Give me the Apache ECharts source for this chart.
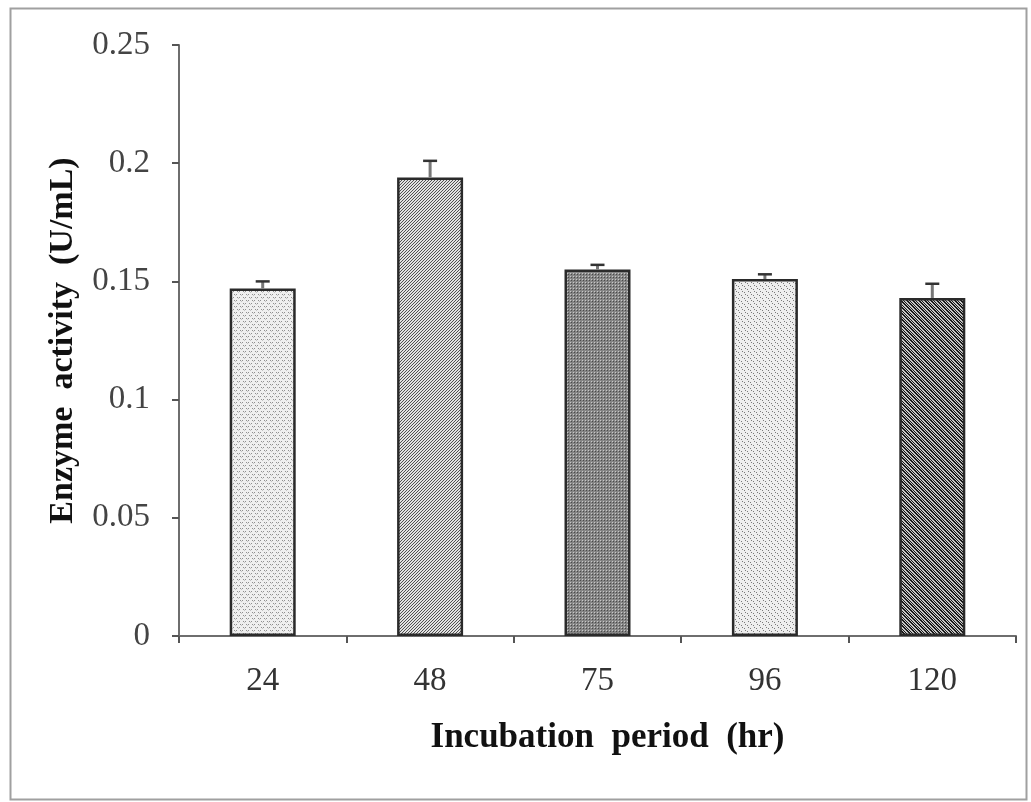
<!DOCTYPE html>
<html><head><meta charset="utf-8">
<script src="https://cdn.jsdelivr.net/npm/echarts@6/dist/echarts.min.js"></script>
<style>html,body{margin:0;padding:0;background:#fff}#c{width:1031px;height:802px}</style>
</head><body><div id="c"></div>
<script>
const categories = ['24', '48', '75', '96', '120'];
const values = [0.147, 0.194, 0.155, 0.151, 0.143];
const errorTops = [0.150, 0.201, 0.157, 0.153, 0.149];
const yTicks = [0, 0.05, 0.1, 0.15, 0.2, 0.25];

function makePattern(kind) {
  const c = document.createElement('canvas');
  const s = 6; c.width = s; c.height = s;
  const g = c.getContext('2d');
  if (kind === 'dots') {
    g.fillStyle = '#efefef'; g.fillRect(0,0,s,s);
    g.fillStyle = '#8f8f8f';
    g.fillRect(0,0,1,1); g.fillRect(3,3,1,1); g.fillRect(2,0,1,1); g.fillRect(5,3,1,1);
    g.fillStyle = '#c4c4c4';
    g.fillRect(1,1,1,1); g.fillRect(4,4,1,1);
  } else if (kind === 'fwd') {
    g.fillStyle = '#e2e2e2'; g.fillRect(0,0,s,s);
    g.fillStyle = '#505050';
    for (let i=0;i<s;i++){ g.fillRect((s-1-i),i,1,1); g.fillRect((s-1-i+3)%s,i,1,1);}
  } else if (kind === 'grid') {
    g.fillStyle = '#858585'; g.fillRect(0,0,s,s);
    g.fillStyle = '#c8c8c8';
    g.fillRect(0,0,1,1); g.fillRect(3,3,1,1); g.fillRect(3,0,1,1); g.fillRect(0,3,1,1);
    g.fillStyle = '#4a4a4a';
    g.fillRect(1,1,1,1); g.fillRect(4,4,1,1); g.fillRect(4,1,1,1); g.fillRect(1,4,1,1);
  } else if (kind === 'dots2') {
    g.fillStyle = '#eeeeee'; g.fillRect(0,0,s,s);
    g.fillStyle = '#7a7a7a';
    g.fillRect(1,0,1,1); g.fillRect(4,3,1,1); g.fillRect(0,4,1,1); g.fillRect(3,1,1,1);
  } else if (kind === 'back') {
    g.fillStyle = '#c8c8c8'; g.fillRect(0,0,s,s);
    g.fillStyle = '#1a1a1a';
    for (let i=0;i<s;i++){ g.fillRect(i,i,1,1); g.fillRect((i+1)%s,i,1,1); g.fillRect((i+3)%s,i,1,1);}
  }
  return {image: c, repeat: 'repeat'};
}
const patterns = [makePattern('dots'), makePattern('fwd'), makePattern('grid'), makePattern('dots2'), makePattern('back')];

const chart = echarts.init(document.getElementById('c'), null, {renderer: 'canvas'});
const serif = '"Liberation Serif", "DejaVu Serif", serif';
chart.setOption({
  animation: false,
  backgroundColor: '#fff',
  graphic: [{
    type: 'rect', left: 8, top: 6, z: -1,
    shape: {width: 1016, height: 791},
    style: {fill: 'none', stroke: '#a0a0a0', lineWidth: 2}
  }],
  grid: {left: 179, right: 15, top: 45, bottom: 166},
  xAxis: {
    type: 'category',
    data: categories,
    name: 'Incubation  period  (hr)',
    nameLocation: 'middle',
    nameGap: 84,
    nameTextStyle: {fontFamily: serif, fontWeight: 'bold', fontSize: 35, color: '#111', padding: [0, 0, 0, 20]},
    axisLine: {lineStyle: {color: '#6e6e6e', width: 2}},
    axisTick: {show: true, length: 7, lineStyle: {color: '#555', width: 2}},
    axisLabel: {fontFamily: serif, fontSize: 33, color: '#333', margin: 29}
  },
  yAxis: {
    type: 'value',
    min: 0, max: 0.25, interval: 0.05,
    name: 'Enzyme  activity  (U/mL)',
    nameLocation: 'middle',
    nameGap: 99,
    nameTextStyle: {fontFamily: serif, fontWeight: 'bold', fontSize: 34, color: '#111'},
    axisLine: {show: true, lineStyle: {color: '#6e6e6e', width: 2}},
    axisTick: {show: true, length: 7, lineStyle: {color: '#555', width: 2}},
    splitLine: {show: false},
    axisLabel: {fontFamily: serif, fontSize: 33, color: '#444', margin: 29,
      formatter: v => { const t = yTicks.find(x => Math.abs(x - v) < 1e-9); return t === undefined ? '' : String(t); }}
  },
  series: [{
    type: 'bar',
    barWidth: 66,
    data: values.map((v, i) => ({value: v, itemStyle: {color: patterns[i]}})),
    itemStyle: {borderColor: '#2a2a2a', borderWidth: 2.5},
    z: 2
  }, {
    type: 'custom',
    z: 3,
    data: values.map((v, i) => [i, v, errorTops[i]]),
    renderItem: function (params, api) {
      const base = api.coord([api.value(0), api.value(1)]);
      const top = api.coord([api.value(0), api.value(2)]);
      const x = base[0];
      return {
        type: 'group',
        children: [
          {type: 'line', shape: {x1: x, y1: base[1], x2: x, y2: top[1]}, style: {stroke: '#777', lineWidth: 3}},
          {type: 'line', shape: {x1: x - 7, y1: top[1], x2: x + 7, y2: top[1]}, style: {stroke: '#333', lineWidth: 2.5}}
        ]
      };
    }
  }]
});
</script></body></html>
